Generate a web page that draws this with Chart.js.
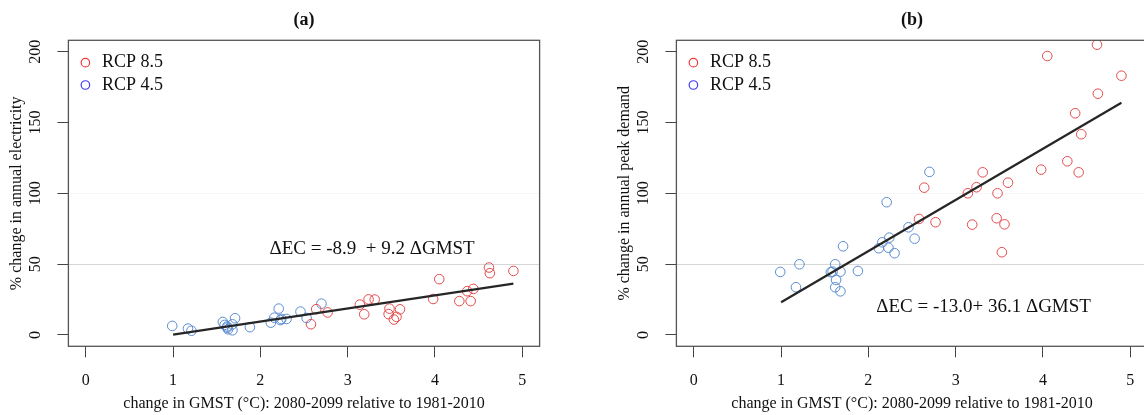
<!DOCTYPE html>
<html>
<head>
<meta charset="utf-8">
<script src="https://cdn.jsdelivr.net/npm/chart.js@4.4.1/dist/chart.umd.min.js"></script>
<style>
html, body { margin: 0; padding: 0; background: #fff; }
#wrap { position: relative; width: 1144px; height: 415px; overflow: hidden; }
canvas { position: absolute; top: 0; }
#chartA { left: 0; }
#chartB { left: 608px; }
</style>
</head>
<body>
<div id="wrap">
    <canvas id="chartA" width="600" height="415" style="width:600px;height:415px"></canvas>
    <canvas id="chartB" width="600" height="415" style="width:600px;height:415px"></canvas>
</div>
<script>
// GMST change per model run (same runs in both panels)
const gmst85 = [2.58, 2.64, 2.77, 3.14, 3.19, 3.24, 3.31, 3.47, 3.48, 3.53, 3.56, 3.60, 3.98, 4.05, 4.28, 4.37, 4.41, 4.44, 4.62, 4.63, 4.90];
const gmst45 = [0.99, 1.17, 1.21, 1.57, 1.59, 1.62, 1.62, 1.63, 1.68, 1.68, 1.71, 1.88, 2.12, 2.16, 2.21, 2.23, 2.24, 2.30, 2.46, 2.53, 2.70];

// (a) % change in annual electricity
const elec85 = [7.6, 18.2, 15.9, 21.4, 14.6, 25.1, 25.0, 14.7, 18.6, 10.9, 12.8, 18.1, 25.4, 39.4, 23.9, 30.9, 23.9, 32.5, 47.6, 43.6, 45.2];
const elec45 = [6.4, 4.5, 3.0, 9.2, 7.1, 5.1, 6.0, 4.0, 7.5, 3.3, 11.8, 5.5, 8.7, 12.2, 18.6, 10.5, 11.3, 11.3, 16.5, 12.0, 22.1];

// (b) % change in annual peak demand
const peak85 = [81.9, 104.0, 79.6, 100.0, 77.9, 104.3, 114.8, 82.4, 100.0, 58.4, 78.1, 107.5, 116.7, 196.9, 122.6, 156.5, 114.8, 141.7, 204.9, 170.3, 183.0];
const peak45 = [44.5, 33.7, 49.9, 44.3, 44.7, 49.9, 33.7, 38.8, 44.7, 30.8, 62.6, 45.2, 61.2, 65.4, 93.7, 61.6, 68.7, 57.7, 76.0, 68.0, 115.1];

// fitted lines (end points)
const fitX = [1, 4.9];
const fitElec = [0.3, 36.2];
const fitPeak = [23.1, 163.9];

const xTicks = [0, 1, 2, 3, 4, 5];
const yTicks = [0, 50, 100, 150, 200];
const legendNames = ['RCP 8.5', 'RCP 4.5'];
const legendColors = ['#f03a3a', '#3a3aff'];

const red = '#e34b4d';
const blue = '#5b8bd0';
const ink = '#111';

Chart.defaults.font.family = '"Liberation Serif", "Times New Roman", serif';
Chart.defaults.color = ink;

const zip = (xs, ys) => xs.map((x, i) => ({x: x, y: ys[i]}));

// frame round the plot region
const boxPlugin = {
    id: 'box',
    afterDraw(chart) {
        const a = chart.chartArea;
        const ctx = chart.ctx;
        ctx.save();
        ctx.strokeStyle = '#555';
        ctx.lineWidth = 1.3;
        ctx.strokeRect(a.left, a.top, a.right - a.left, a.bottom - a.top);
        ctx.restore();
    }
};

// put the legend in the top left corner of the plot
const legendPlace = {
    id: 'legendPlace',
    afterUpdate(chart) {
        const lg = chart.legend;
        if (!lg) return;
        lg.left = chart.chartArea.left + 5;
        lg.top = chart.chartArea.top + 9.1;
        lg.adjustHitBoxes();
    }
};

function eqPlugin(text, gx, gy) {
    return {
        id: 'eq',
        afterDatasetsDraw(chart) {
            const ctx = chart.ctx;
            ctx.save();
            ctx.font = '19px "Liberation Serif", serif';
            ctx.fillStyle = ink;
            ctx.textAlign = 'center';
            ctx.textBaseline = 'middle';
            ctx.fillText(text, chart.scales.x.getPixelForValue(gx), chart.scales.y.getPixelForValue(gy));
            ctx.restore();
        }
    };
}

function makePanel(id, title, yLabel, y85, y45, fitY, eq) {
    const pts = {
        showLine: false,
        pointRadius: 4.8,
        pointHoverRadius: 4.8,
        pointBorderWidth: 1,
        pointBackgroundColor: 'rgba(0,0,0,0)'
    };
    return new Chart(document.getElementById(id), {
        type: 'scatter',
        data: {
            datasets: [
                {
                    label: 'fit',
                    data: zip(fitX, fitY),
                    showLine: true,
                    borderColor: '#262626',
                    borderWidth: 2.2,
                    pointRadius: 0
                },
                Object.assign({label: legendNames[0], data: zip(gmst85, y85), pointBorderColor: red, borderColor: red}, pts),
                Object.assign({label: legendNames[1], data: zip(gmst45, y45), pointBorderColor: blue, borderColor: blue}, pts)
            ]
        },
        options: {
            responsive: false,
            animation: false,
            devicePixelRatio: 1,
            layout: { padding: { left: 0, right: 60.4, top: 0, bottom: 0 } },
            scales: {
                x: {
                    type: 'linear',
                    min: -0.2,
                    max: 5.2,
                    afterBuildTicks: s => { s.ticks = xTicks.map(v => ({value: v})); },
                    afterFit: s => { s.height = 68.7; },
                    grid: { drawOnChartArea: false, tickLength: 11, tickColor: '#444', tickWidth: 1 },
                    border: { display: false },
                    ticks: { padding: 14, maxRotation: 0, font: { size: 16 }, color: ink },
                    title: {
                        display: true,
                        text: 'change in GMST (°C): 2080-2099 relative to 1981-2010',
                        font: { size: 16 },
                        color: ink,
                        padding: { top: 0, bottom: 1.4 }
                    }
                },
                y: {
                    type: 'linear',
                    min: -8,
                    max: 208,
                    afterBuildTicks: s => { s.ticks = yTicks.map(v => ({value: v})); },
                    afterFit: s => { s.width = 68.4; },
                    grid: {
                        drawOnChartArea: true,
                        tickLength: 11,
                        tickColor: '#444',
                        tickWidth: 1,
                        color: c => c.tick && c.tick.value === 50 ? 'rgba(0,0,0,0.16)'
                            : (c.tick && c.tick.value === 100 ? 'rgba(0,0,0,0.04)' : 'rgba(0,0,0,0)')
                    },
                    border: { display: false },
                    ticks: { padding: 9.4, minRotation: 90, maxRotation: 90, crossAlign: 'center', font: { size: 16 }, color: ink },
                    title: {
                        display: true,
                        text: yLabel,
                        font: { size: 16 },
                        color: ink,
                        padding: { top: 6.8, bottom: 0 }
                    }
                }
            },
            plugins: {
                title: {
                    display: true,
                    text: title,
                    fullSize: false,
                    font: { size: 18, weight: 'bold' },
                    color: ink,
                    padding: { top: 9.2, bottom: 9.5 }
                },
                legend: {
                    position: 'chartArea',
                    align: 'start',
                    labels: {
                        usePointStyle: true,
                        boxWidth: 15.4,
                        boxHeight: 6,
                        padding: 4.3,
                        font: { size: 18 },
                        color: ink,
                        generateLabels: () => legendNames.map((t, i) => ({
                            text: t,
                            fillStyle: 'rgba(0,0,0,0)',
                            strokeStyle: legendColors[i],
                            lineWidth: 1.2,
                            pointStyle: 'circle',
                            hidden: false,
                            datasetIndex: i + 1,
                            fontColor: ink
                        }))
                    }
                },
                tooltip: { enabled: false }
            }
        },
        plugins: [boxPlugin, legendPlace, eqPlugin(eq.text, eq.x, eq.y)]
    });
}

makePanel('chartA', '(a)', '% change in annual electricity', elec85, elec45, fitElec,
    { text: 'ΔEC = -8.9  + 9.2 ΔGMST', x: 3.28, y: 60.7 });
makePanel('chartB', '(b)', '% change in annual peak demand', peak85, peak45, fitPeak,
    { text: 'ΔEC = -13.0+ 36.1 ΔGMST', x: 3.32, y: 20 });
</script>
</body>
</html>
